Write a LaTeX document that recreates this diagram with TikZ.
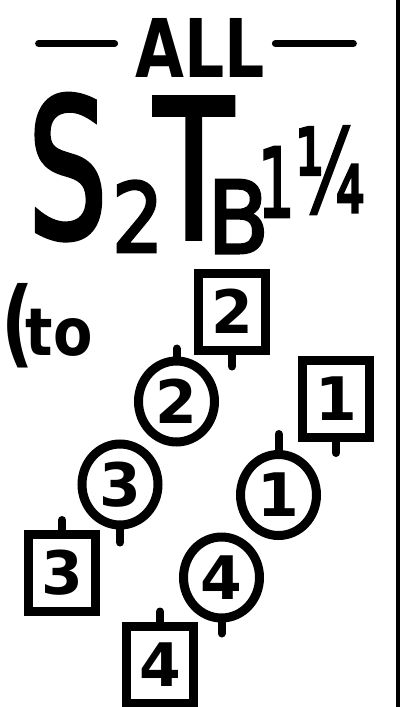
\documentclass[tikz,border=0pt]{standalone}
\usepackage{fontspec}
\setmainfont{DejaVu Sans}
\newfontfamily\titlefont{DejaVu Sans}[FakeBold=3]
\usepackage{graphicx}
\usetikzlibrary{shapes.geometric, calc}

\begin{document}
\begin{tikzpicture}[x=1pt, y=-1pt,
  every node/.style={inner sep=0pt},
  gent/.style={draw, rectangle, line width=9pt, minimum width=67pt, minimum height=77pt, font=\bfseries\fontsize{60}{60}\selectfont},
  lady/.style={draw, ellipse, line width=9pt, minimum width=76pt, minimum height=81pt, font=\bfseries\fontsize{60}{60}\selectfont},
  nose/.style={line cap=round, line width=8pt},
  bar/.style={line cap=round, line width=7pt}]
  \useasboundingbox (0,0) rectangle (401,707);
  % heading
  \node[font=\bfseries\fontsize{81}{81}\selectfont, anchor=base] (all) at (200.5,77) {\scalebox{0.78}[1]{ALL}};
  \draw[bar] ($(all.west)+(-21,-4)$) -- ($(all.west)+(-97,-4)$);
  \draw[bar] ($(all.east)+(10,-4)$) -- ($(all.east)+(88,-4)$);
  \node[font=\titlefont\fontsize{192}{192}\selectfont, anchor=base west] (title) at (27.9,237)
    {\scalebox{0.65}[1]{S}\kern4.45pt\raisebox{-15pt}{\fontsize{96}{96}\selectfont\scalebox{0.85}[1]{2}}\kern-9.25pt\raisebox{-1pt}{\scalebox{0.67}[1]{T}}\kern-25.65pt\raisebox{-16pt}{\fontsize{100}{100}\selectfont\scalebox{0.9}[1]{B}}\kern-11.15pt\raisebox{20pt}{\fontsize{96}{96}\selectfont\scalebox{0.6}[1]{1}}};
  \node[font=\titlefont\fontsize{115}{115}\selectfont, anchor=base] (quarter) at (330,212) {\scalebox{0.62}[1]{¼}};
  \node[font=\bfseries\fontsize{66}{66}\selectfont, anchor=base west] (tonote) at (1,355) {{\fontsize{95}{95}\selectfont\scalebox{0.75}[1]{(}}\kern-8pt\scalebox{0.87}[1]{to}};
  % dancers
  \node[gent] (gent2) at (232,311.5) {2};
  \node[gent] (gent1) at (336,399) {1};
  \node[gent] (gent3) at (62,573) {3};
  \node[gent] (gent4) at (160,664.5) {4};
  \node[lady] (lady2) at (176.5,401.5) {2};
  \node[lady] (lady1) at (278.5,495) {1};
  \node[lady] (lady3) at (120,484.5) {3};
  \node[lady] (lady4) at (221.5,577.5) {4};
  \draw[nose] (gent2.south) -- ++(0,12);
  \draw[nose] (gent1.south) -- ++(0,11);
  \draw[nose] (gent3.north) -- ++(0,-10);
  \draw[nose] (gent4.north) -- ++(0,-10);
  \draw[nose] (lady2.north) -- ++(0,-8);
  \draw[nose] (lady1.north) -- ++(0,-16);
  \draw[nose] (lady3.south) -- ++(0,13);
  \draw[nose] (lady4.south) -- ++(0,11);
  % divider
  \draw[line width=4pt] (398,0) -- (398,707);
\end{tikzpicture}
\end{document}
